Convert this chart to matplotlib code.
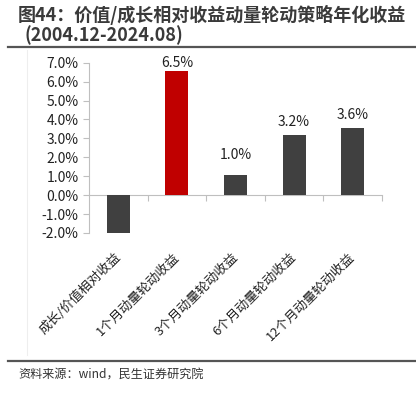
import matplotlib
matplotlib.use('Agg')
import matplotlib.pyplot as plt
from matplotlib.ticker import FixedLocator, FuncFormatter

plt.rcParams['font.family'] = ['Noto Sans CJK SC', 'DejaVu Sans']

# 数据
categories = ['成长/价值相对收益', '1个月动量轮动收益', '3个月动量轮动收益',
              '6个月动量轮动收益', '12个月动量轮动收益']
values = [-2.02, 6.54, 1.04, 3.19, 3.56]
value_labels = ['', '6.5%', '1.0%', '3.2%', '3.6%']
yticks = [-2, -1, 0, 1, 2, 3, 4, 5, 6, 7]

bar_colors = ['#404040', '#C00000', '#404040', '#404040', '#404040']
label_gap = [0, 1, 10, 4, 4]   # 标签距柱顶（pt）

fig = plt.figure(figsize=(4.16, 3.96), dpi=100)
ax = fig.add_axes([89 / 416, 1 - 233 / 396, (382 - 89) / 416, (233 - 62.7) / 396])

x = list(range(len(categories)))
ax.bar(x, values, width=0.39, color=bar_colors, zorder=3)

for xi, v, lab, gap in zip(x, values, value_labels, label_gap):
    if lab:
        ax.annotate(lab, (xi, v), xytext=(0, gap), textcoords='offset points',
                    ha='center', va='bottom', fontsize=10, color='#222222')

ax.set_xlim(-0.5, len(categories) - 0.5)
ax.set_ylim(-2, 7)
ax.set_yticks(yticks)
ax.yaxis.set_major_formatter(FuncFormatter(lambda v, p: f'{v:.1f}%'))

for s in ['top', 'right']:
    ax.spines[s].set_visible(False)
ax.spines['left'].set_color('#BFBFBF')
ax.spines['bottom'].set_color('#BFBFBF')
ax.spines['bottom'].set_position(('data', 0))

# 主刻度在类别边界，次刻度放标签
ax.xaxis.set_major_locator(FixedLocator([i + 0.5 for i in x]))
ax.xaxis.set_major_formatter(FuncFormatter(lambda v, p: ''))
ax.xaxis.set_minor_locator(FixedLocator(x))
ax.set_xticklabels(categories, minor=True, rotation=45, ha='right', va='center',
                   rotation_mode='anchor', fontsize=9.4, color='#222222')
ax.tick_params(axis='x', which='major', length=4, color='#BFBFBF', direction='out')
ax.tick_params(axis='x', which='minor', length=0, pad=43)
ax.tick_params(axis='y', length=4, color='#BFBFBF', labelsize=10, labelcolor='#222222')

# 标题
fig.text(18 / 416, 1 - 15 / 396, '图44：价值/成长相对收益动量轮动策略年化收益',
         fontsize=13, fontweight='bold', color='#3A3A3A', va='center', ha='left')
fig.text(24 / 416, 1 - 35 / 396, '(2004.12-2024.08)',
         fontsize=13, fontweight='bold', color='#3A3A3A', va='center', ha='left')

# 分隔线
fig.add_artist(plt.Line2D([8 / 416, 1], [1 - 47 / 396] * 2, color='#555555', lw=1.6))
fig.add_artist(plt.Line2D([8 / 416, 1], [1 - 361 / 396] * 2, color='#555555', lw=1.6))
fig.add_artist(plt.Line2D([27 / 416] * 2, [1 - 50 / 396, 1 - 355 / 396], color='#EEEEEE', lw=0.8))

fig.text(18 / 416, 1 - 375 / 396, '资料来源：wind，民生证券研究院',
         fontsize=8.7, color='#333333', va='center', ha='left')

fig.savefig('out.png', dpi=100)
